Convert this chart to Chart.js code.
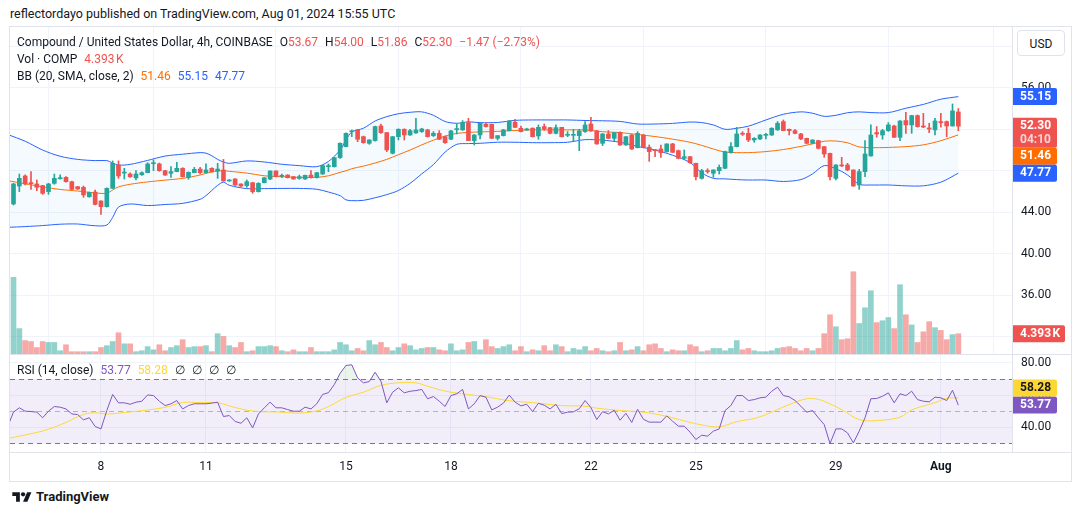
<!DOCTYPE html>
<html><head><meta charset="utf-8">
<script src="https://cdn.jsdelivr.net/npm/chart.js@4.4.1/dist/chart.umd.min.js"></script>
<style>
html,body{margin:0;padding:0;background:#fff;width:1080px;height:515px;overflow:hidden;font-family:Roboto,"Liberation Sans",sans-serif;color:#131722;}
.abs{position:absolute;}
#hdr{left:10px;top:6px;font-size:12.5px;white-space:nowrap;}
#frame{left:9px;top:26px;width:1063px;height:456px;border:1px solid #e0e3eb;box-sizing:border-box;pointer-events:none;z-index:5;}
.hline{height:1px;background:#e0e3eb;left:9px;width:1063px;z-index:5;}
#legend{left:17px;top:34px;font-size:12px;line-height:17px;white-space:nowrap;z-index:6;}
.g{margin-left:7px;}
#rsileg{left:17px;top:362px;font-size:12px;line-height:17px;white-space:nowrap;z-index:6;}
#usd{left:1017px;top:30px;width:48px;height:26px;border:1px solid #e0e3eb;border-radius:4px;background:#fff;font-size:12px;line-height:26px;text-align:center;z-index:6;box-sizing:border-box;}
#foot{left:12px;top:489px;font-size:13px;font-weight:bold;display:flex;align-items:center;gap:4px;color:#131722;}
canvas{position:absolute;}
</style></head>
<body>
<div id="hdr" class="abs">reflectordayo published on TradingView.com, Aug 01, 2024 15:55 UTC</div>
<canvas id="c1" width="1062" height="327" style="left:10px;top:27px"></canvas>
<canvas id="c2" width="1062" height="126" style="left:10px;top:355px"></canvas>
<div id="frame" class="abs"></div>
<div class="abs hline" style="top:354px"></div>
<div class="abs hline" style="top:452px"></div>
<div id="legend" class="abs"></div>
<div id="rsileg" class="abs"></div>
<div id="usd" class="abs">USD</div>
<div id="foot" class="abs"><svg width="20" height="14" viewBox="0 0 36 26"><path d="M14 22H7V11H0V4h14v18z" fill="#131722"/><circle cx="20" cy="8" r="4" fill="#131722"/><path d="M28 22h-8l7.5-18h8L28 22z" fill="#131722"/></svg><span>TradingView</span></div>
<script>
// ---------------- DATA ----------------
// candle index 0 = Jul 5 12:00 UTC, 4h candles
const OPEN = [44.80,46.53,47.50,46.86,46.73,46.57,45.99,46.79,47.24,47.37,46.95,46.47,46.40,45.50,45.95,45.09,44.54,46.31,48.56,47.78,
47.69,47.31,47.62,47.82,48.68,48.66,48.01,47.76,47.92,48.24,47.37,47.82,48.17,47.82,48.24,47.98,48.08,47.02,47.21,46.73,
46.57,46.85,45.99,46.85,47.20,47.98,47.46,47.59,47.43,47.27,47.21,47.59,47.34,47.69,48.40,48.40,49.27,50.33,51.76,51.94,
51.29,50.65,50.91,52.32,51.68,49.69,51.29,52.00,51.45,51.65,51.78,51.94,51.39,51.61,51.29,51.04,51.97,51.94,52.64,50.91,
51.45,52.48,52.48,51.13,51.39,51.87,52.68,52.10,51.94,52.10,51.36,52.26,52.16,51.61,52.19,51.42,51.42,51.39,51.78,52.51,
51.84,50.65,51.55,51.13,51.71,50.49,51.45,50.23,51.45,50.27,50.01,50.10,49.85,50.59,49.94,49.20,49.36,48.72,47.27,48.00,
47.76,48.01,48.24,49.75,50.33,51.60,51.61,50.97,51.07,51.42,51.45,51.94,52.74,52.00,51.87,51.55,51.13,50.65,50.91,50.33,
49.68,47.27,48.56,48.56,48.08,46.63,47.92,49.43,51.68,51.45,51.87,52.32,51.23,52.84,52.42,53.32,52.30,52.10,51.94,52.74,
52.74,52.32,53.67];
const HIGH = [46.80,47.69,47.60,47.92,47.11,46.60,46.79,47.69,47.60,47.45,47.00,46.50,46.53,45.95,46.15,45.10,46.35,48.95,48.95,48.24,
47.80,48.01,47.90,48.78,49.04,48.75,48.05,48.40,48.82,48.30,47.90,48.33,48.33,48.66,48.30,48.72,49.10,47.15,47.25,46.75,
47.11,46.90,46.85,47.36,48.00,48.00,47.69,47.62,47.45,47.59,47.59,48.01,47.85,48.55,48.66,49.30,50.70,51.65,51.94,52.00,
51.35,51.00,52.30,52.51,51.70,51.30,52.05,52.05,52.00,53.06,52.10,52.00,51.78,51.87,51.35,51.90,52.51,52.84,53.06,51.50,
52.60,52.64,52.50,51.40,52.00,52.84,52.96,52.32,52.10,52.15,52.42,52.51,52.20,52.42,52.20,51.78,52.00,52.00,52.74,53.16,
51.90,51.60,51.87,51.70,51.75,51.30,51.50,51.78,51.50,50.49,50.05,50.49,50.60,50.65,50.00,50.01,49.40,48.75,48.14,48.20,
48.10,48.56,49.90,50.71,52.19,51.78,52.10,51.20,51.50,51.61,52.15,52.74,52.90,52.03,52.00,51.60,51.15,51.00,50.95,50.35,
49.70,48.60,49.30,48.72,48.10,48.14,50.91,52.42,52.26,52.00,52.64,52.40,52.85,53.64,53.35,53.38,53.54,52.58,53.06,53.54,
52.80,54.44,54.00];
const LOW = [44.70,45.99,46.63,46.21,46.08,45.73,45.73,46.70,47.20,46.90,46.15,46.20,45.44,45.45,44.70,43.80,44.50,46.30,47.27,47.21,
47.35,47.11,47.55,47.80,48.01,47.95,47.55,47.37,47.90,47.40,47.18,47.80,47.69,47.80,47.88,47.27,47.00,46.98,46.60,46.47,
46.41,45.83,45.95,46.83,47.15,47.40,47.34,47.30,47.18,47.18,47.18,47.30,47.30,47.65,47.92,48.35,49.20,50.30,51.29,50.80,
50.65,50.55,50.85,51.60,49.85,49.62,50.97,50.97,51.40,51.60,51.70,51.25,51.30,51.00,50.65,51.00,51.55,51.90,50.90,50.49,
51.07,52.20,51.10,50.97,51.35,51.85,52.15,51.75,51.90,51.25,51.04,51.90,51.55,51.55,51.25,51.29,50.91,49.94,51.70,51.80,
50.55,50.43,51.10,50.91,50.45,50.45,50.05,50.20,50.20,48.91,49.36,49.30,49.80,49.75,49.15,49.10,48.70,47.11,47.20,47.76,
47.37,47.69,48.20,49.70,50.30,51.40,50.81,50.75,51.00,51.06,51.40,51.90,51.85,51.45,51.55,51.00,50.60,50.60,50.10,49.30,
47.11,47.11,48.40,48.00,46.50,46.21,47.43,49.40,51.23,51.04,51.80,51.20,50.91,51.61,51.61,52.20,52.15,51.68,51.45,52.20,
51.29,52.30,51.86];
const CLOSE = [46.73,47.27,46.73,46.76,46.41,45.83,46.73,47.27,47.33,46.95,46.21,46.25,45.67,45.92,44.76,44.54,46.31,48.72,47.50,47.82,
47.43,47.69,47.82,48.66,48.74,48.01,47.59,47.92,48.24,47.43,47.85,48.14,47.82,48.08,47.92,48.17,47.02,47.11,46.63,46.53,
46.95,45.99,46.79,47.33,47.98,47.43,47.56,47.34,47.21,47.43,47.56,47.34,47.82,48.50,48.47,49.27,50.65,51.61,51.84,51.04,
50.71,50.97,52.26,51.68,50.01,51.29,52.00,51.45,51.87,51.94,52.03,51.29,51.61,51.04,50.71,51.84,52.03,52.64,50.91,51.45,
52.58,52.26,51.13,51.39,51.94,52.80,52.19,51.78,52.03,51.29,52.19,52.03,51.61,52.16,51.29,51.48,51.48,51.84,52.42,51.84,
50.59,51.55,51.13,51.68,50.49,51.29,50.10,51.61,50.23,49.85,49.94,49.75,50.59,49.78,49.20,49.36,48.78,47.43,48.01,47.92,
48.08,48.33,49.84,50.33,51.55,51.52,50.97,51.13,51.45,51.48,52.10,52.58,51.87,51.87,51.61,51.07,50.65,50.97,50.17,49.62,
47.43,48.56,48.47,48.08,46.53,47.92,49.62,51.45,51.55,51.87,52.42,51.23,52.80,52.42,53.32,52.26,52.22,52.03,52.80,52.64,
52.32,53.77,52.30];
// volume in thousands (COMP)
const VOLUME = [16.6,5.5,2.9,2.7,1.4,2.7,2.5,2.5,0.7,2.0,0.5,0.5,0.5,0.5,0.5,1.4,1.8,2.7,4.6,2.2,
2.2,0.5,0.7,1.6,0.9,2.0,0.7,1.4,1.8,3.1,1.4,1.6,1.6,1.8,0.5,4.4,3.8,1.8,1.4,2.5,
0.5,0.7,1.6,1.6,1.8,1.6,0.7,0.5,0.9,0.5,0.5,1.4,0.5,0.5,0.5,0.9,2.5,2.0,0.7,1.2,
0.7,2.9,2.0,2.5,1.4,0.7,1.4,2.2,1.8,0.9,1.2,1.4,1.4,0.9,0.7,2.2,0.7,0.9,2.5,2.7,
0.9,3.1,1.6,1.2,1.6,2.0,0.7,1.6,0.5,0.9,0.7,1.8,0.7,2.0,1.6,0.5,1.2,0.9,1.6,0.7,
1.2,0.7,0.5,0.7,2.5,0.7,0.9,1.6,0.7,2.0,2.2,1.2,0.5,0.9,0.7,0.7,2.0,1.6,0.5,0.7,
1.2,1.2,0.7,1.2,2.9,0.9,1.2,0.7,0.5,0.5,0.7,1.2,1.4,1.6,1.2,0.7,1.2,0.7,1.2,4.4,
8.5,5.9,3.1,3.3,17.8,6.6,10.0,13.7,6.8,7.2,7.9,5.5,15.0,8.5,6.3,2.5,4.8,7.0,5.7,5.1,
3.1,4.2,4.393];
// Bollinger Bands (20, SMA, close, 2) read at these candle indices
const BB_X = [-1,2,5,8,11,14,16,17,18,20,23,26,29,32,33,34,35,36,37,40,43,46,49,52,54,56,57,58,60,62,64,66,68,70,72,74,76,78,80,83,86,89,92,95,98,101,104,107,110,113,116,118,120,122,124,126,129,132,135,137,139,141,143,145,147,150,153,156,159,162];
const BB_UPPER = [51.5,50.85,50.0,49.4,49.1,48.98,48.98,48.75,48.55,48.62,49.0,49.42,49.6,49.75,49.7,49.45,49.1,48.85,48.72,48.95,48.85,48.63,48.5,48.4,48.9,50.0,50.95,51.75,52.1,52.8,53.22,53.5,53.64,53.68,53.35,52.75,52.58,52.72,52.64,52.66,52.86,52.9,52.9,52.9,52.85,52.82,52.76,52.51,52.51,52.57,52.7,52.65,52.42,52.0,52.1,52.3,52.9,53.45,53.68,53.55,53.25,53.35,53.6,53.68,53.61,53.61,54.03,54.4,54.9,55.15];
const BB_MID = [47.05,46.75,46.45,46.2,46.05,45.87,45.83,46.15,46.45,46.7,46.93,47.1,47.27,47.59,47.75,47.88,47.98,48.0,47.95,47.78,47.52,47.43,47.37,47.37,47.52,47.85,48.0,48.2,48.45,48.75,49.1,49.55,50.0,50.5,50.95,51.35,51.6,51.7,51.75,51.8,51.88,51.94,51.94,51.94,51.94,51.77,51.68,51.5,51.3,51.05,50.75,50.45,50.1,49.8,49.75,49.75,49.85,50.05,50.35,50.6,50.85,50.87,50.7,50.3,50.23,50.25,50.33,50.5,50.9,51.46];
const BB_LOWER = [42.55,42.62,42.72,42.85,42.87,42.7,42.77,43.5,44.5,44.8,44.65,44.75,44.86,45.25,45.6,46.1,46.6,46.9,46.6,46.28,46.28,46.3,46.3,46.22,45.95,45.6,45.2,45.12,45.15,45.4,45.7,46.1,46.79,47.7,48.6,49.8,50.55,50.62,50.65,50.75,50.75,50.71,50.71,50.75,51.0,50.95,50.75,50.35,50.0,49.5,48.8,47.8,47.27,47.22,47.15,47.11,47.11,46.97,47.15,47.7,48.5,48.2,47.6,46.7,46.63,46.63,46.55,46.55,46.9,47.77];
// RSI (14, close), first value belongs to candle index -1
const RSI_START = -1;
const RSI = [40.5,49.4,52.1,50.0,49.8,49.4,45.9,50.0,52.9,52.5,51.4,48.3,47.9,44.6,45.9,40.5,39.0,50.4,60.4,55.2,55.2,54.3,55.6,56.2,60.1,59.7,
56.2,53.5,54.6,56.6,51.4,53.5,54.6,54.6,54.6,55.0,55.6,46.7,47.3,43.6,42.5,45.9,39.6,48.3,52.1,55.6,52.1,52.1,51.0,50.0,50.0,52.5,
51.4,54.6,60.4,61.5,66.5,73.5,78.4,78.8,70.7,67.6,68.4,74.2,68.6,55.2,61.8,64.5,61.4,62.4,62.8,63.5,57.7,59.1,56.2,52.9,59.7,60.8,
63.5,51.4,54.6,59.7,58.7,50.8,52.5,55.0,60.0,55.6,53.3,54.3,49.8,54.9,53.7,51.4,54.3,48.5,49.4,49.6,51.5,56.6,52.3,44.8,49.7,48.3,
50.6,44.4,48.7,43.0,51.2,45.0,43.2,43.2,43.2,47.1,43.8,40.7,40.7,37.0,32.4,35.1,34.5,37.6,39.0,50.4,53.5,59.7,59.7,56.6,57.2,58.3,
58.7,62.4,64.9,59.7,58.9,56.6,53.1,49.4,50.4,45.9,41.7,29.9,39.0,39.0,36.5,30.3,37.6,45.9,57.7,57.9,59.3,61.4,55.2,60.8,59.7,62.4,
57.2,56.2,55.8,58.7,58.3,56.6,63.0,53.77];
// RSI-based MA read at these candle indices
const RSI_MA_X = [-1,3,6,9,12,14,16,19,22,26,29,32,35,38,41,46,49,52,54,57,60,63,66,69,71,74,77,81,85,89,94,98,100,104,108,112,115,118,121,124,127,129,133,136,138,140,142,145,148,152,154,158,160,162];
const RSI_MA = [33.0,36.0,38.8,43.0,48.0,49.0,48.2,49.2,50.3,52.4,55.4,55.3,55.2,52.3,50.1,49.4,48.8,50.2,52.9,58.5,61.8,66.0,67.6,67.6,65.5,62.5,60.8,59.0,56.5,55.3,53.5,53.1,51.9,50.4,49.4,46.8,44.0,41.5,40.3,43.5,45.5,47.9,54.1,57.7,57.3,54.5,51.0,44.8,44.2,46.3,50.8,55.3,58.0,58.28];
// time axis tick labels and the candle index where each day starts
const X_TICK_IDX = [15,33,57,75,99,117,141,159];
const X_TICK_LABELS = ['8','11','15','18','22','25','29','Aug'];
// value axis tick labels
const PRICE_TICKS = [32,36,40,44,48,52,56,60];
const RSI_TICKS = [40,60,80];

// ---------------- RENDER ----------------
const GREEN='#26a69a', RED='#ef5350';
const VGREEN='rgba(38,166,154,0.5)', VRED='rgba(239,83,80,0.5)';
const FONT='Roboto, "Liberation Sans", sans-serif';
Chart.defaults.font.family=FONT;
Chart.defaults.font.size=12;
Chart.defaults.color='#131722';
const N=OPEN.length, IDX=OPEN.map((_,i)=>i);
const isUp=i=>CLOSE[i]>=OPEN[i];
const X_MIN=-0.6, X_MAX=171.2;
const last=N-1;
const fmt=v=>v.toFixed(2);
const MINUS='\u2212';

// legends
const chg=CLOSE[last]-CLOSE[last-1], pct=chg/CLOSE[last-1]*100;
const sgn=v=>(v<0?MINUS:'+')+Math.abs(v).toFixed(2);
const cc=isUp(last)?GREEN:RED;
const volTxt=VOLUME[last].toFixed(3)+'\u202FK';
document.getElementById('legend').innerHTML=
 `<div>Compound / United States Dollar, 4h, COINBASE<span class="g">O</span><span style="color:${cc}">${fmt(OPEN[last])}</span><span class="g">H</span><span style="color:${cc}">${fmt(HIGH[last])}</span><span class="g">L</span><span style="color:${cc}">${fmt(LOW[last])}</span><span class="g">C</span><span style="color:${cc}">${fmt(CLOSE[last])}</span><span class="g" style="color:${cc}">${sgn(chg)} (${sgn(pct)}%)</span></div>`+
 `<div>Vol · COMP<span class="g" style="color:${cc}">${volTxt}</span></div>`+
 `<div>BB (20, SMA, close, 2)<span class="g" style="color:#ff6d00">${fmt(BB_MID[BB_MID.length-1])}</span><span class="g" style="color:#2962ff">${fmt(BB_UPPER[BB_UPPER.length-1])}</span><span class="g" style="color:#2962ff">${fmt(BB_LOWER[BB_LOWER.length-1])}</span></div>`;
document.getElementById('rsileg').innerHTML=
 `RSI (14, close)<span class="g" style="color:#7e57c2">${fmt(RSI[RSI.length-1])}</span><span class="g" style="color:#fdd835">${fmt(RSI_MA[RSI_MA.length-1])}</span><span class="g">∅</span><span class="g">∅</span><span class="g">∅</span><span class="g">∅</span>`;

// badge placement with collision avoidance
function drawBadges(chart, list){
  const ctx=chart.ctx, ca=chart.chartArea, placed=[];
  for(const b of list){
    const sc=chart.scales[b.axis];
    const y=sc.getPixelForValue(b.value);
    let top=y-8.5, guard=0, moved=true;
    while(moved && guard++<10){
      moved=false;
      for(const p of placed){
        if(top<p.top+p.h-0.01 && top+b.h>p.top+0.01){
          const pc=p.top+p.h/2;
          top = (y>=pc)? p.top+p.h : p.top-b.h;
          moved=true;
        }
      }
    }
    placed.push({top,h:b.h});
    ctx.save();
    ctx.fillStyle=b.bg;
    const x=ca.right+1;
    ctx.beginPath();
    ctx.roundRect(x,top,b.w,b.h,[0,2,2,0]);
    ctx.fill();
    ctx.fillStyle=b.fg;
    ctx.font='bold 12px '+FONT;
    ctx.textBaseline='middle';
    ctx.textAlign='left';
    ctx.fillText(b.text,x+7,top+8.8);
    if(b.text2){ctx.globalAlpha=0.75;ctx.fillText(b.text2,x+7,top+22);}
    ctx.restore();
  }
}

const dayTicks=s=>{s.ticks=X_TICK_IDX.map(v=>({value:v}));};
const noPadX=s=>{s.paddingLeft=0;s.paddingRight=0;};
const GRID='#f0f3fa';

new Chart(document.getElementById('c1'),{
  type:'bar',
  data:{datasets:[
    {type:'bar',data:IDX.map(i=>({x:i,y:[OPEN[i],CLOSE[i]]})),backgroundColor:IDX.map(i=>isUp(i)?GREEN:RED),barThickness:4,minBarLength:1,grouped:false,order:0,yAxisID:'y',borderWidth:0},
    {type:'bar',data:IDX.map(i=>({x:i,y:[LOW[i],HIGH[i]]})),backgroundColor:IDX.map(i=>isUp(i)?GREEN:RED),barThickness:1,grouped:false,order:1,yAxisID:'y',borderWidth:0},
    {type:'line',data:BB_X.map((x,k)=>({x,y:BB_UPPER[k]})),borderColor:'#2962ff',borderWidth:1,pointRadius:0,fill:'+2',backgroundColor:'rgba(33,150,243,0.05)',tension:0.3,order:3,yAxisID:'y'},
    {type:'line',data:BB_X.map((x,k)=>({x,y:BB_MID[k]})),borderColor:'#ff6d00',borderWidth:1,pointRadius:0,fill:false,tension:0.3,order:2,yAxisID:'y'},
    {type:'line',data:BB_X.map((x,k)=>({x,y:BB_LOWER[k]})),borderColor:'#2962ff',borderWidth:1,pointRadius:0,fill:false,tension:0.3,order:3,yAxisID:'y'},
    {type:'bar',data:IDX.map(i=>({x:i,y:VOLUME[i]})),backgroundColor:IDX.map(i=>isUp(i)?VGREEN:VRED),barThickness:5,grouped:false,order:10,yAxisID:'yv',borderWidth:0}
  ]},
  options:{
    responsive:false,animation:false,devicePixelRatio:1,
    layout:{padding:0},
    plugins:{legend:{display:false},tooltip:{enabled:false}},
    scales:{
      x:{type:'linear',min:X_MIN,max:X_MAX,offset:false,afterBuildTicks:dayTicks,afterFit:s=>{s.height=0;noPadX(s);},ticks:{display:false},grid:{color:GRID,drawTicks:false},border:{display:false}},
      y:{position:'right',min:30.34,max:61.86,afterBuildTicks:s=>{s.ticks=PRICE_TICKS.map(v=>({value:v}));},afterFit:s=>{s.width=60;s.paddingTop=0;s.paddingBottom=0;},ticks:{padding:9,callback:v=>v.toFixed(2)},grid:{color:GRID,drawTicks:false},border:{display:true,color:'#e0e3eb'}},
      yv:{display:false,min:0,max:70.78}
    }
  },
  plugins:[{id:'badges',afterDraw(chart){
    drawBadges(chart,[
      {axis:'y',value:CLOSE[last],bg:cc,fg:'#fff',text:fmt(CLOSE[last]),text2:'04:10',w:44,h:30},
      {axis:'y',value:BB_UPPER[BB_UPPER.length-1],bg:'#2962ff',fg:'#fff',text:fmt(BB_UPPER[BB_UPPER.length-1]),w:44,h:17},
      {axis:'y',value:BB_MID[BB_MID.length-1],bg:'#ff6d00',fg:'#fff',text:fmt(BB_MID[BB_MID.length-1]),w:44,h:17},
      {axis:'y',value:BB_LOWER[BB_LOWER.length-1],bg:'#2962ff',fg:'#fff',text:fmt(BB_LOWER[BB_LOWER.length-1]),w:44,h:17},
      {axis:'yv',value:VOLUME[last],bg:cc,fg:'#fff',text:volTxt,w:52,h:17}
    ]);
  }}]
});

const lblMap={};X_TICK_IDX.forEach((v,k)=>lblMap[v]=X_TICK_LABELS[k]);
new Chart(document.getElementById('c2'),{
  type:'line',
  data:{datasets:[
    {data:RSI.map((v,k)=>({x:k+RSI_START,y:v})),borderColor:'#7e57c2',borderWidth:1,pointRadius:0,tension:0,fill:{target:{value:70},above:'rgba(76,175,80,0.12)',below:'rgba(0,0,0,0)'},order:0},
    {data:RSI.map((v,k)=>({x:k+RSI_START,y:v})),borderColor:'rgba(0,0,0,0)',borderWidth:0,pointRadius:0,tension:0,fill:{target:{value:30},above:'rgba(0,0,0,0)',below:'rgba(239,83,80,0.12)'},order:2},
    {data:RSI_MA_X.map((x,k)=>({x,y:RSI_MA[k]})),borderColor:'#fdd835',borderWidth:1,pointRadius:0,tension:0.4,fill:false,order:1}
  ]},
  options:{
    responsive:false,animation:false,devicePixelRatio:1,
    layout:{padding:0},
    plugins:{legend:{display:false},tooltip:{enabled:false}},
    scales:{
      x:{type:'linear',min:X_MIN,max:X_MAX,offset:false,afterBuildTicks:dayTicks,afterFit:s=>{s.height=29;noPadX(s);},
        ticks:{padding:8,maxRotation:0,autoSkip:false,callback:v=>lblMap[v]??'',font:c=>({size:12,weight:(c.tick&&lblMap[c.tick.value]==='Aug')?'bold':'normal'})},
        grid:{color:GRID,drawTicks:false},border:{display:false}},
      y:{position:'right',min:24.65,max:84.9,afterBuildTicks:s=>{s.ticks=RSI_TICKS.map(v=>({value:v}));},afterFit:s=>{s.width=60;s.paddingTop=0;s.paddingBottom=0;},ticks:{padding:9,callback:v=>v.toFixed(2)},grid:{color:GRID,drawTicks:false},border:{display:true,color:'#e0e3eb'}}
    }
  },
  plugins:[{id:'rsiband',beforeDatasetsDraw(chart){
    const {ctx,chartArea:ca,scales:{y}}=chart;
    const y70=y.getPixelForValue(70),y30=y.getPixelForValue(30),y50=y.getPixelForValue(50);
    ctx.save();
    ctx.fillStyle='rgba(126,87,194,0.1)';
    ctx.fillRect(ca.left,y70,ca.right-ca.left,y30-y70);
    ctx.lineWidth=1;ctx.setLineDash([5,4]);
    ctx.strokeStyle='#787b86';
    [y70,y30].forEach(yy=>{ctx.beginPath();ctx.moveTo(ca.left,Math.round(yy)+0.5);ctx.lineTo(ca.right,Math.round(yy)+0.5);ctx.stroke();});
    ctx.strokeStyle='rgba(120,123,134,0.5)';
    ctx.beginPath();ctx.moveTo(ca.left,Math.round(y50)+0.5);ctx.lineTo(ca.right,Math.round(y50)+0.5);ctx.stroke();
    ctx.restore();
  },afterDraw(chart){
    drawBadges(chart,[
      {axis:'y',value:RSI[RSI.length-1],bg:'#7e57c2',fg:'#fff',text:fmt(RSI[RSI.length-1]),w:44,h:17},
      {axis:'y',value:RSI_MA[RSI_MA.length-1],bg:'#fdd835',fg:'#131722',text:fmt(RSI_MA[RSI_MA.length-1]),w:44,h:17}
    ]);
  }}]
});
</script>
</body></html>
